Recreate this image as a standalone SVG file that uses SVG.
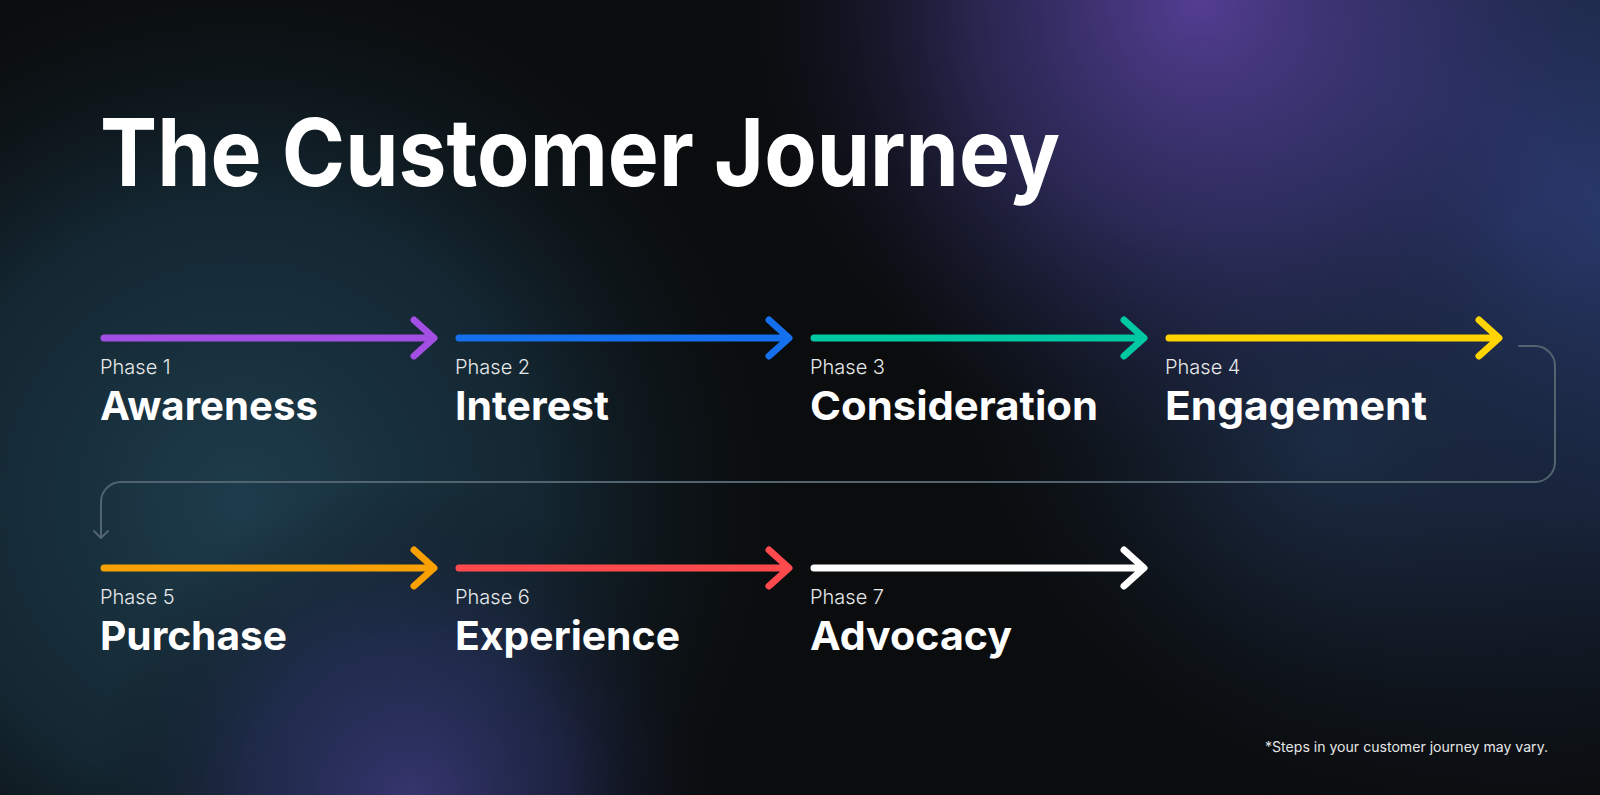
<svg xmlns="http://www.w3.org/2000/svg" width="1600" height="795" viewBox="0 0 1600 795">
<defs>
<radialGradient id="gLeft" cx="240" cy="500" r="600" gradientUnits="userSpaceOnUse">
<stop offset="0" stop-color="#1e3c4c"/>
<stop offset="0.5" stop-color="#17303e" stop-opacity="0.75"/>
<stop offset="1" stop-color="#0b0d0f" stop-opacity="0"/>
</radialGradient>
<radialGradient id="gTop" cx="1200" cy="0" r="460" gradientUnits="userSpaceOnUse">
<stop offset="0" stop-color="#543d92"/>
<stop offset="0.5" stop-color="#38316e" stop-opacity="0.65"/>
<stop offset="1" stop-color="#1a1d3a" stop-opacity="0"/>
</radialGradient>
<radialGradient id="gRight" cx="1520" cy="220" r="640" gradientUnits="userSpaceOnUse">
<stop offset="0" stop-color="#2e3f7a"/>
<stop offset="0.45" stop-color="#203154" stop-opacity="0.8"/>
<stop offset="1" stop-color="#101820" stop-opacity="0"/>
</radialGradient>
<radialGradient id="gMidR" cx="1330" cy="440" r="360" gradientUnits="userSpaceOnUse">
<stop offset="0" stop-color="#1c2d45" stop-opacity="0.85"/>
<stop offset="1" stop-color="#0b0d0f" stop-opacity="0"/>
</radialGradient>
<radialGradient id="gBottom" cx="410" cy="800" r="320" gradientUnits="userSpaceOnUse">
<stop offset="0" stop-color="#36366f"/>
<stop offset="0.5" stop-color="#262b58" stop-opacity="0.6"/>
<stop offset="1" stop-color="#0b0d0f" stop-opacity="0"/>
</radialGradient>
<style>
.title{font-family:Inter,"Liberation Sans",sans-serif;font-weight:700;font-size:94px;fill:#ffffff}
.phase{font-family:Inter,"Liberation Sans",sans-serif;font-weight:300;font-size:20px;fill:#e6e8ea}
.name{font-family:Inter,"Liberation Sans",sans-serif;font-weight:700;font-size:40px;fill:#ffffff}
.note{font-family:Inter,"Liberation Sans",sans-serif;font-weight:400;font-size:14px;fill:#e6e6e6}
.arr{fill:none;stroke-width:7;stroke-linecap:round;stroke-linejoin:round}
.conn{fill:none;stroke:#51646f;stroke-width:2;stroke-linecap:round;stroke-linejoin:round}
</style>
</defs>
<rect width="1600" height="795" fill="#0a0c0d"/>
<rect width="1600" height="795" fill="url(#gLeft)"/>
<rect width="1600" height="795" fill="url(#gRight)"/>
<rect width="1600" height="795" fill="url(#gMidR)"/>
<rect width="1600" height="795" fill="url(#gTop)"/>
<rect width="1600" height="795" fill="url(#gBottom)"/>

<text class="title" x="100" y="186" textLength="960" lengthAdjust="spacingAndGlyphs">The Customer Journey</text>

<g id="connectors">
<path class="conn" d="M1519,346 H1535 A20,20 0 0 1 1555,366 V462 A20,20 0 0 1 1535,482 H121 A20,20 0 0 0 101,502 V538"/>
<path class="conn" d="M94,531 L101,538 L108,531"/>
</g>

<g id="phase1">
<path class="arr" stroke="#a44fe3" d="M104,338 H431 M414,320 L434,338 L414,356"/>
<text class="phase" x="100" y="374">Phase 1</text>
<text class="name" x="100" y="420" textLength="218" lengthAdjust="spacingAndGlyphs">Awareness</text>
</g>
<g id="phase2">
<path class="arr" stroke="#1570ee" d="M459,338 H786 M769,320 L789,338 L769,356"/>
<text class="phase" x="455" y="374">Phase 2</text>
<text class="name" x="455" y="420" textLength="154" lengthAdjust="spacingAndGlyphs">Interest</text>
</g>
<g id="phase3">
<path class="arr" stroke="#00c8a3" d="M814,338 H1141 M1124,320 L1144,338 L1124,356"/>
<text class="phase" x="810" y="374">Phase 3</text>
<text class="name" x="810" y="420" textLength="288" lengthAdjust="spacingAndGlyphs">Consideration</text>
</g>
<g id="phase4">
<path class="arr" stroke="#ffd400" d="M1169,338 H1496 M1479,320 L1499,338 L1479,356"/>
<text class="phase" x="1165" y="374">Phase 4</text>
<text class="name" x="1165" y="420" textLength="262" lengthAdjust="spacingAndGlyphs">Engagement</text>
</g>
<g id="phase5">
<path class="arr" stroke="#f9a100" d="M104,568 H431 M414,550 L434,568 L414,586"/>
<text class="phase" x="100" y="604">Phase 5</text>
<text class="name" x="100" y="650" textLength="187" lengthAdjust="spacingAndGlyphs">Purchase</text>
</g>
<g id="phase6">
<path class="arr" stroke="#ff4a4d" d="M459,568 H786 M769,550 L789,568 L769,586"/>
<text class="phase" x="455" y="604">Phase 6</text>
<text class="name" x="455" y="650" textLength="225" lengthAdjust="spacingAndGlyphs">Experience</text>
</g>
<g id="phase7">
<path class="arr" stroke="#ffffff" d="M814,568 H1141 M1124,550 L1144,568 L1124,586"/>
<text class="phase" x="810" y="604">Phase 7</text>
<text class="name" x="810" y="650" textLength="202" lengthAdjust="spacingAndGlyphs">Advocacy</text>
</g>

<text class="note" x="1265" y="752" textLength="283" lengthAdjust="spacingAndGlyphs">*Steps in your customer journey may vary.</text>
</svg>
